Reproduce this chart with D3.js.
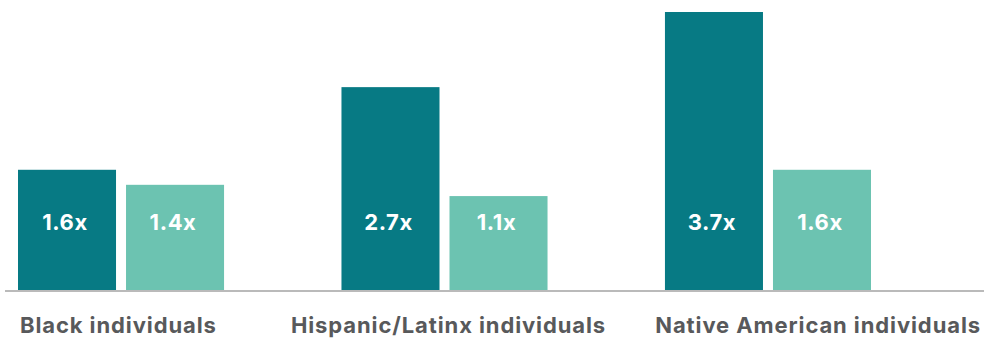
<!DOCTYPE html>
<html>
<head>
<meta charset="utf-8">
<script src="https://cdnjs.cloudflare.com/ajax/libs/d3/7.8.5/d3.min.js"></script>
<style>
  body { margin: 0; background: #fff; }
  svg { display: block; font-family: Inter, "Noto Sans", sans-serif; }
</style>
</head>
<body>
<svg id="chart" width="984" height="339"></svg>
<script>
// data
var categories = ["Black individuals", "Hispanic/Latinx individuals", "Native American individuals"];
var series = ["s1", "s2"];
var seriesA = [1.6, 2.7, 3.7];
var seriesB = [1.4, 1.25, 1.6];
var labelsA = ["1.6x", "2.7x", "3.7x"];
var labelsB = ["1.4x", "1.1x", "1.6x"];
var colors = ["#077a84", "#6cc3b1"];

var svg = d3.select("#chart");
var base = 290;

var x0 = d3.scaleBand().domain(categories).range([18, 871]).paddingInner(0.363).paddingOuter(0);
var x1 = d3.scaleBand().domain(series).range([0, x0.bandwidth()]).paddingInner(0.0926);
var y = d3.scaleLinear().domain([0, 3.7]).range([base, 12]);

var rows = categories.map(function(c, i) {
    return {cat: c, bars: [
        {s: "s1", v: seriesA[i], label: labelsA[i]},
        {s: "s2", v: seriesB[i], label: labelsB[i]}
    ]};
});

var g = svg.selectAll("g.grp")
    .data(rows)
    .enter().append("g")
    .attr("class", "grp")
    .attr("transform", function(d) { return "translate(" + x0(d.cat) + ",0)"; });

g.selectAll("rect")
    .data(function(d) { return d.bars; })
    .enter().append("rect")
    .attr("x", function(d) { return x1(d.s); })
    .attr("y", function(d) { return y(d.v); })
    .attr("width", x1.bandwidth())
    .attr("height", function(d) { return base - y(d.v); })
    .attr("fill", function(d, i) { return colors[i]; });

g.selectAll("text.val")
    .data(function(d) { return d.bars; })
    .enter().append("text")
    .attr("class", "val")
    .attr("x", function(d) { return x1(d.s) + x1.bandwidth() / 2 - 2; })
    .attr("y", base - 60)
    .attr("text-anchor", "middle")
    .attr("fill", "#fff")
    .attr("font-size", 22)
    .attr("font-weight", 700)
    .attr("letter-spacing", 0.6)
    .text(function(d) { return d.label; });

// baseline
svg.append("line")
    .attr("x1", 5).attr("x2", 984)
    .attr("y1", base + 1).attr("y2", base + 1)
    .attr("stroke", "#a3a3a3")
    .attr("stroke-width", 1.5);

// category labels: first left, middle centred, last right
svg.selectAll("text.cat")
    .data(categories)
    .enter().append("text")
    .attr("class", "cat")
    .attr("x", function(d, i) {
        if (i == 0) return x0(d) + 2;
        if (i == categories.length - 1) return 981;
        return x0(d) + x0.bandwidth() / 2 + 4;
    })
    .attr("y", 333)
    .attr("text-anchor", function(d, i) {
        return i == 0 ? "start" : (i == categories.length - 1 ? "end" : "middle");
    })
    .attr("fill", "#58595b")
    .attr("font-size", 22)
    .attr("font-weight", 700)
    .attr("letter-spacing", 0.9)
    .text(function(d) { return d; });
</script>
</body>
</html>
